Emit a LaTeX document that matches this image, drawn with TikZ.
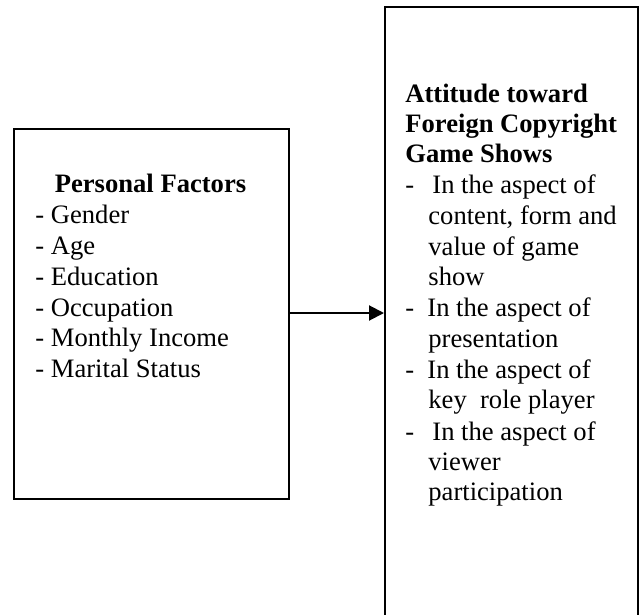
\documentclass[tikz,border=0pt]{standalone}
\usepackage{fontspec}
\setmainfont{Liberation Serif}
\usetikzlibrary{arrows.meta}
\tikzset{
  frame/.style={draw=black, line width=1pt},
  txt/.style={anchor=base west, inner sep=0pt, font=\fontsize{13.3}{15.25}\selectfont},
  head/.style={txt, font=\fontsize{13.3}{15.25}\selectfont\bfseries},
  link/.style={line width=1pt, -{Triangle[length=7.5pt,width=7.5pt]}}
}
\begin{document}
\begin{tikzpicture}[x=0.5pt,y=-0.5pt]
\useasboundingbox (0,0) rectangle (640,614);
\clip (0,0) rectangle (640,614);
\fill[white] (0,0) rectangle (640,614);
% boxes
\node[frame, inner sep=0pt, minimum width=137.5pt, minimum height=185pt, anchor=north west] (left) at (13,128) {};
\node[frame, inner sep=0pt, minimum width=126.5pt, minimum height=320pt, anchor=north west] (right) at (384,6) {};
% left text
\node[head, anchor=base] (lh) at (150.5,193) {Personal Factors};
\node[txt] (l1) at (35,223) {- Gender};
\node[txt] (l2) at (35,254.5) {- Age};
\node[txt] (l3) at (35,285) {- Education};
\node[txt] (l4) at (35,316) {- Occupation};
\node[txt] (l5) at (35,346) {- Monthly Income};
\node[txt] (l6) at (35,377) {- Marital Status};
% right text
\node[head] (rh1) at (405,103) {Attitude toward};
\node[head] (rh2) at (405,133) {Foreign Copyright};
\node[head] (rh3) at (405,163) {Game Shows};
\node[txt] (d1) at (405,194) {-};
\node[txt] (r1) at (432,194) {In the aspect of};
\node[txt] (r2) at (428,225) {content, form and};
\node[txt] (r3) at (428,255) {value of game};
\node[txt] (r4) at (428,285) {show};
\node[txt] (d2) at (405,316) {-};
\node[txt] (r5) at (427,316) {In the aspect of};
\node[txt] (r6) at (428,347) {presentation};
\node[txt] (d3) at (405,378) {-};
\node[txt] (r7) at (427,378) {In the aspect of};
\node[txt] (r8) at (428,408) {key\ \ role player};
\node[txt] (d4) at (405,440) {-};
\node[txt] (r9) at (432,440) {In the aspect of};
\node[txt] (r10) at (428,470) {viewer};
\node[txt] (r11) at (428,500) {participation};
% arrow
\coordinate (a0) at (left.east |- 0,313);
\coordinate (a1) at (right.west |- 0,313);
\draw[link] (a0) -- (a1);
\end{tikzpicture}
\end{document}
